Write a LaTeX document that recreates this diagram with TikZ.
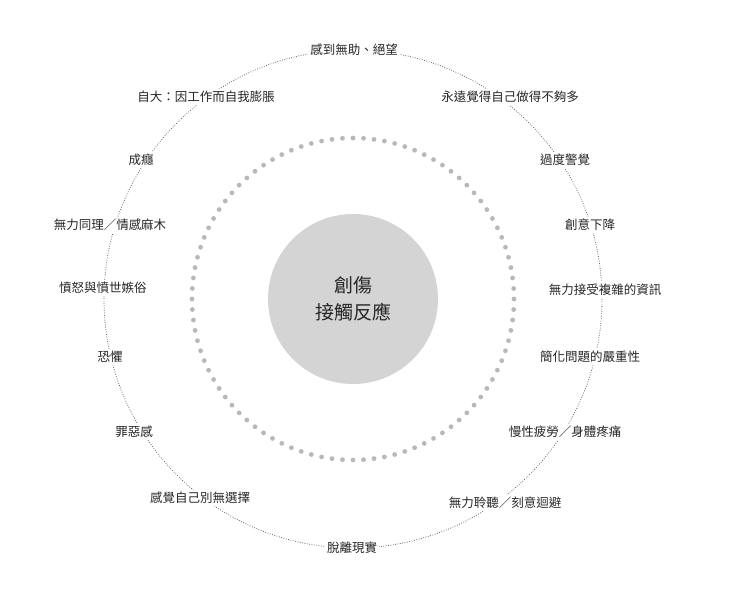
\documentclass[tikz,border=0pt]{standalone}
\usepackage{fontspec}
\usetikzlibrary{calc}
\newfontfamily\cjk{Noto Sans CJK TC}
\begin{document}
\begin{tikzpicture}[x=1pt,y=-1pt,
  lbl/.style={fill=white,inner sep=2pt,font=\cjk\fontsize{12.5}{14}\selectfont,text=black!85}]
\useasboundingbox (0,0) rectangle (740,609);
\coordinate (c) at (353,299);
\draw[black!60,line width=0.8pt,dash pattern=on 0.8pt off 1.6pt] (c) circle (249);
\fill[black!17] (c) circle (85);
\node[font=\cjk\fontsize{19}{27}\selectfont,align=center,text=black!85] (t) at (c) {創傷\\接觸反應};
\foreach \i in {0,...,95} \fill[black!28] ($(c)+(\i*3.75:161)$) circle (2.4);
\node[lbl] (a1) at (354,50) {感到無助、絕望};
\node[lbl] (a2) at (510,97) {永遠覺得自己做得不夠多};
\node[lbl] (a3) at (565,160) {過度警覺};
\node[lbl] (a4) at (590,225) {創意下降};
\node[lbl] (a5) at (605,290) {無力接受複雜的資訊};
\node[lbl] (a6) at (590,357) {簡化問題的嚴重性};
\node[lbl] (a7) at (565,432) {慢性疲勞／身體疼痛};
\node[lbl] (a8) at (505,503) {無力聆聽／刻意迴避};
\node[lbl] (a9) at (352,548) {脫離現實};
\node[lbl] (a10) at (200,498) {感覺自己別無選擇};
\node[lbl] (a11) at (134,432) {罪惡感};
\node[lbl] (a12) at (110,357) {恐懼};
\node[lbl] (a13) at (103,288) {憤怒與憤世嫉俗};
\node[lbl] (a14) at (110,225) {無力同理／情感麻木};
\node[lbl] (a15) at (141,160) {成癮};
\node[lbl] (a16) at (206,97) {自大：因工作而自我膨脹};
\end{tikzpicture}
\end{document}
